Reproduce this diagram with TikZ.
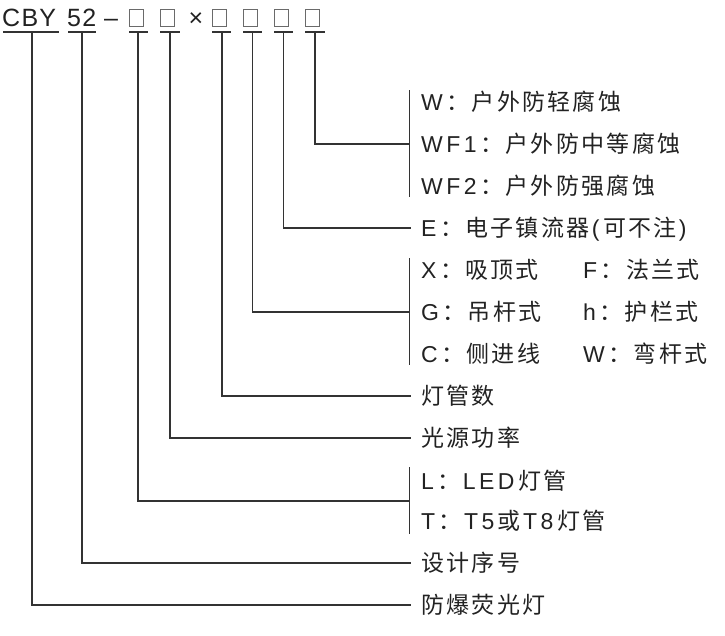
\documentclass[tikz,border=0pt]{standalone}
\usepackage{fontspec}
\setmainfont{Liberation Sans}
\newfontfamily\cjk{Noto Sans CJK SC}
\newfontfamily\topfont{Liberation Sans}[LetterSpace=5]
\newdimen\trk
\def\lsloop#1{\ifx#1\relax\else#1\kern\trk\expandafter\lsloop\fi}
\newcommand\la[1]{{\trk=3.5pt\lsloop#1\relax}}
\newcommand\zh[1]{{\cjk\trk=2.3pt\lsloop#1\relax}}
\definecolor{ink}{HTML}{222222}
\definecolor{wirec}{HTML}{333333}
\definecolor{boxc}{HTML}{6A6A6A}
\begin{document}
\begin{tikzpicture}[x=1pt,y=-1pt,
  lbl/.style={anchor=base west,inner sep=0pt,text=ink,font=\fontsize{23}{23}\selectfont},
  topt/.style={anchor=base west,inner sep=0pt,text=ink,font=\topfont\fontsize{25}{25}\selectfont},
  topc/.style={anchor=base,inner sep=0pt,text=ink,font=\topfont\fontsize{25}{25}\selectfont},
  conn/.style={draw=wirec,line width=1.1pt},
  uline/.style={draw=wirec,line width=1.1pt},
  ubox/.style={draw=boxc,line width=0.9pt,minimum width=14pt,minimum height=17pt,inner sep=0pt,anchor=north west},
]
\useasboundingbox (0,0) rectangle (725,635);

% ---- top code line ----
\node[topt] (cby) at (2,26) {CBY};
\node[topt] (num) at (67,26) {52};
\node[topc] (dash) at (111,26) {–};
\node[ubox] (bx1) at (129,9) {};
\node[ubox] (bx2) at (160,9) {};
\node[topc] (times) at (196,26) {×};
\node[ubox] (bx3) at (212,9) {};
\node[ubox] (bx4) at (243,9) {};
\node[ubox] (bx5) at (274,9) {};
\node[ubox] (bx6) at (305,9) {};

% underlines
\coordinate (ua0) at (3,32);   \coordinate (ub0) at (59,32);
\coordinate (ua1) at (68,32);  \coordinate (ub1) at (96,32);
\coordinate (ua2) at (129,32); \coordinate (ub2) at (148,32);
\coordinate (ua3) at (160,32); \coordinate (ub3) at (180,32);
\coordinate (ua4) at (212,32); \coordinate (ub4) at (231,32);
\coordinate (ua5) at (243,32); \coordinate (ub5) at (262,32);
\coordinate (ua6) at (274,32); \coordinate (ub6) at (293,32);
\coordinate (ua7) at (305,32); \coordinate (ub7) at (325,32);
\foreach \i in {0,...,7} \draw[uline] (ua\i) -- (ub\i);

% stems
\coordinate (v0) at (32,32);
\coordinate (v1) at (82,32);
\coordinate (v2) at (138,32);
\coordinate (v3) at (170,32);
\coordinate (v4) at (222,32);
\coordinate (v5) at (252.5,32);
\coordinate (v6) at (283.5,32);
\coordinate (v7) at (315,32);

% junctions / ends
\coordinate (jW) at (409.5,144);
\coordinate (jE) at (411,228);
\coordinate (jX) at (409.5,312);
\coordinate (jN) at (411,396);
\coordinate (jP) at (411,438);
\coordinate (jL) at (409.5,501);
\coordinate (jD) at (411,563);
\coordinate (jF) at (411,605);

% brackets
\coordinate (bWa) at (409.5,90);  \coordinate (bWb) at (409.5,197);
\coordinate (bXa) at (409.5,258); \coordinate (bXb) at (409.5,365);
\coordinate (bLa) at (409.5,467); \coordinate (bLb) at (409.5,534);
\draw[conn] (bWa) -- (bWb);
\draw[conn] (bXa) -- (bXb);
\draw[conn] (bLa) -- (bLb);

\draw[conn] (v7) |- (jW);
\draw[conn] (v6) |- (jE);
\draw[conn] (v5) |- (jX);
\draw[conn] (v4) |- (jN);
\draw[conn] (v3) |- (jP);
\draw[conn] (v2) |- (jL);
\draw[conn] (v1) |- (jD);
\draw[conn] (v0) |- (jF);

% labels (baseline = row centre + 8.5)
\node[lbl] (t1) at (421,110.5) {\la{W}\zh{：户外防轻腐蚀}};
\node[lbl] (t2) at (421,152.5) {\la{WF1}\zh{：户外防中等腐蚀}};
\node[lbl] (t3) at (421,194.5) {\la{WF2}\zh{：户外防强腐蚀}};
\node[lbl] (t4) at (421,236.5) {\la{E}\zh{：电子镇流器}\la{(}\zh{可不注}\la{)}};
\node[lbl] (t5) at (421,278.5) {\la{X}\zh{：吸顶式}};
\node[lbl] (t5b) at (583,278.5) {\la{F}\zh{：法兰式}};
\node[lbl] (t6) at (421,320.5) {\la{G}\zh{：吊杆式}};
\node[lbl] (t6b) at (583,320.5) {\la{h}\zh{：护栏式}};
\node[lbl] (t7) at (421,362.5) {\la{C}\zh{：侧进线}};
\node[lbl] (t7b) at (583,362.5) {\la{W}\zh{：弯杆式}};
\node[lbl] (t8) at (421,404.5) {\zh{灯管数}};
\node[lbl] (t9) at (421,446.5) {\zh{光源功率}};
\node[lbl] (t10) at (421,489.5) {\la{L}\zh{：}\la{LED}\zh{灯管}};
\node[lbl] (t11) at (421,529.5) {\la{T}\zh{：}\la{T5}\zh{或}\la{T8}\zh{灯管}};
\node[lbl] (t12) at (421,571.5) {\zh{设计序号}};
\node[lbl] (t13) at (421,613.5) {\zh{防爆荧光灯}};
\end{tikzpicture}
\end{document}
